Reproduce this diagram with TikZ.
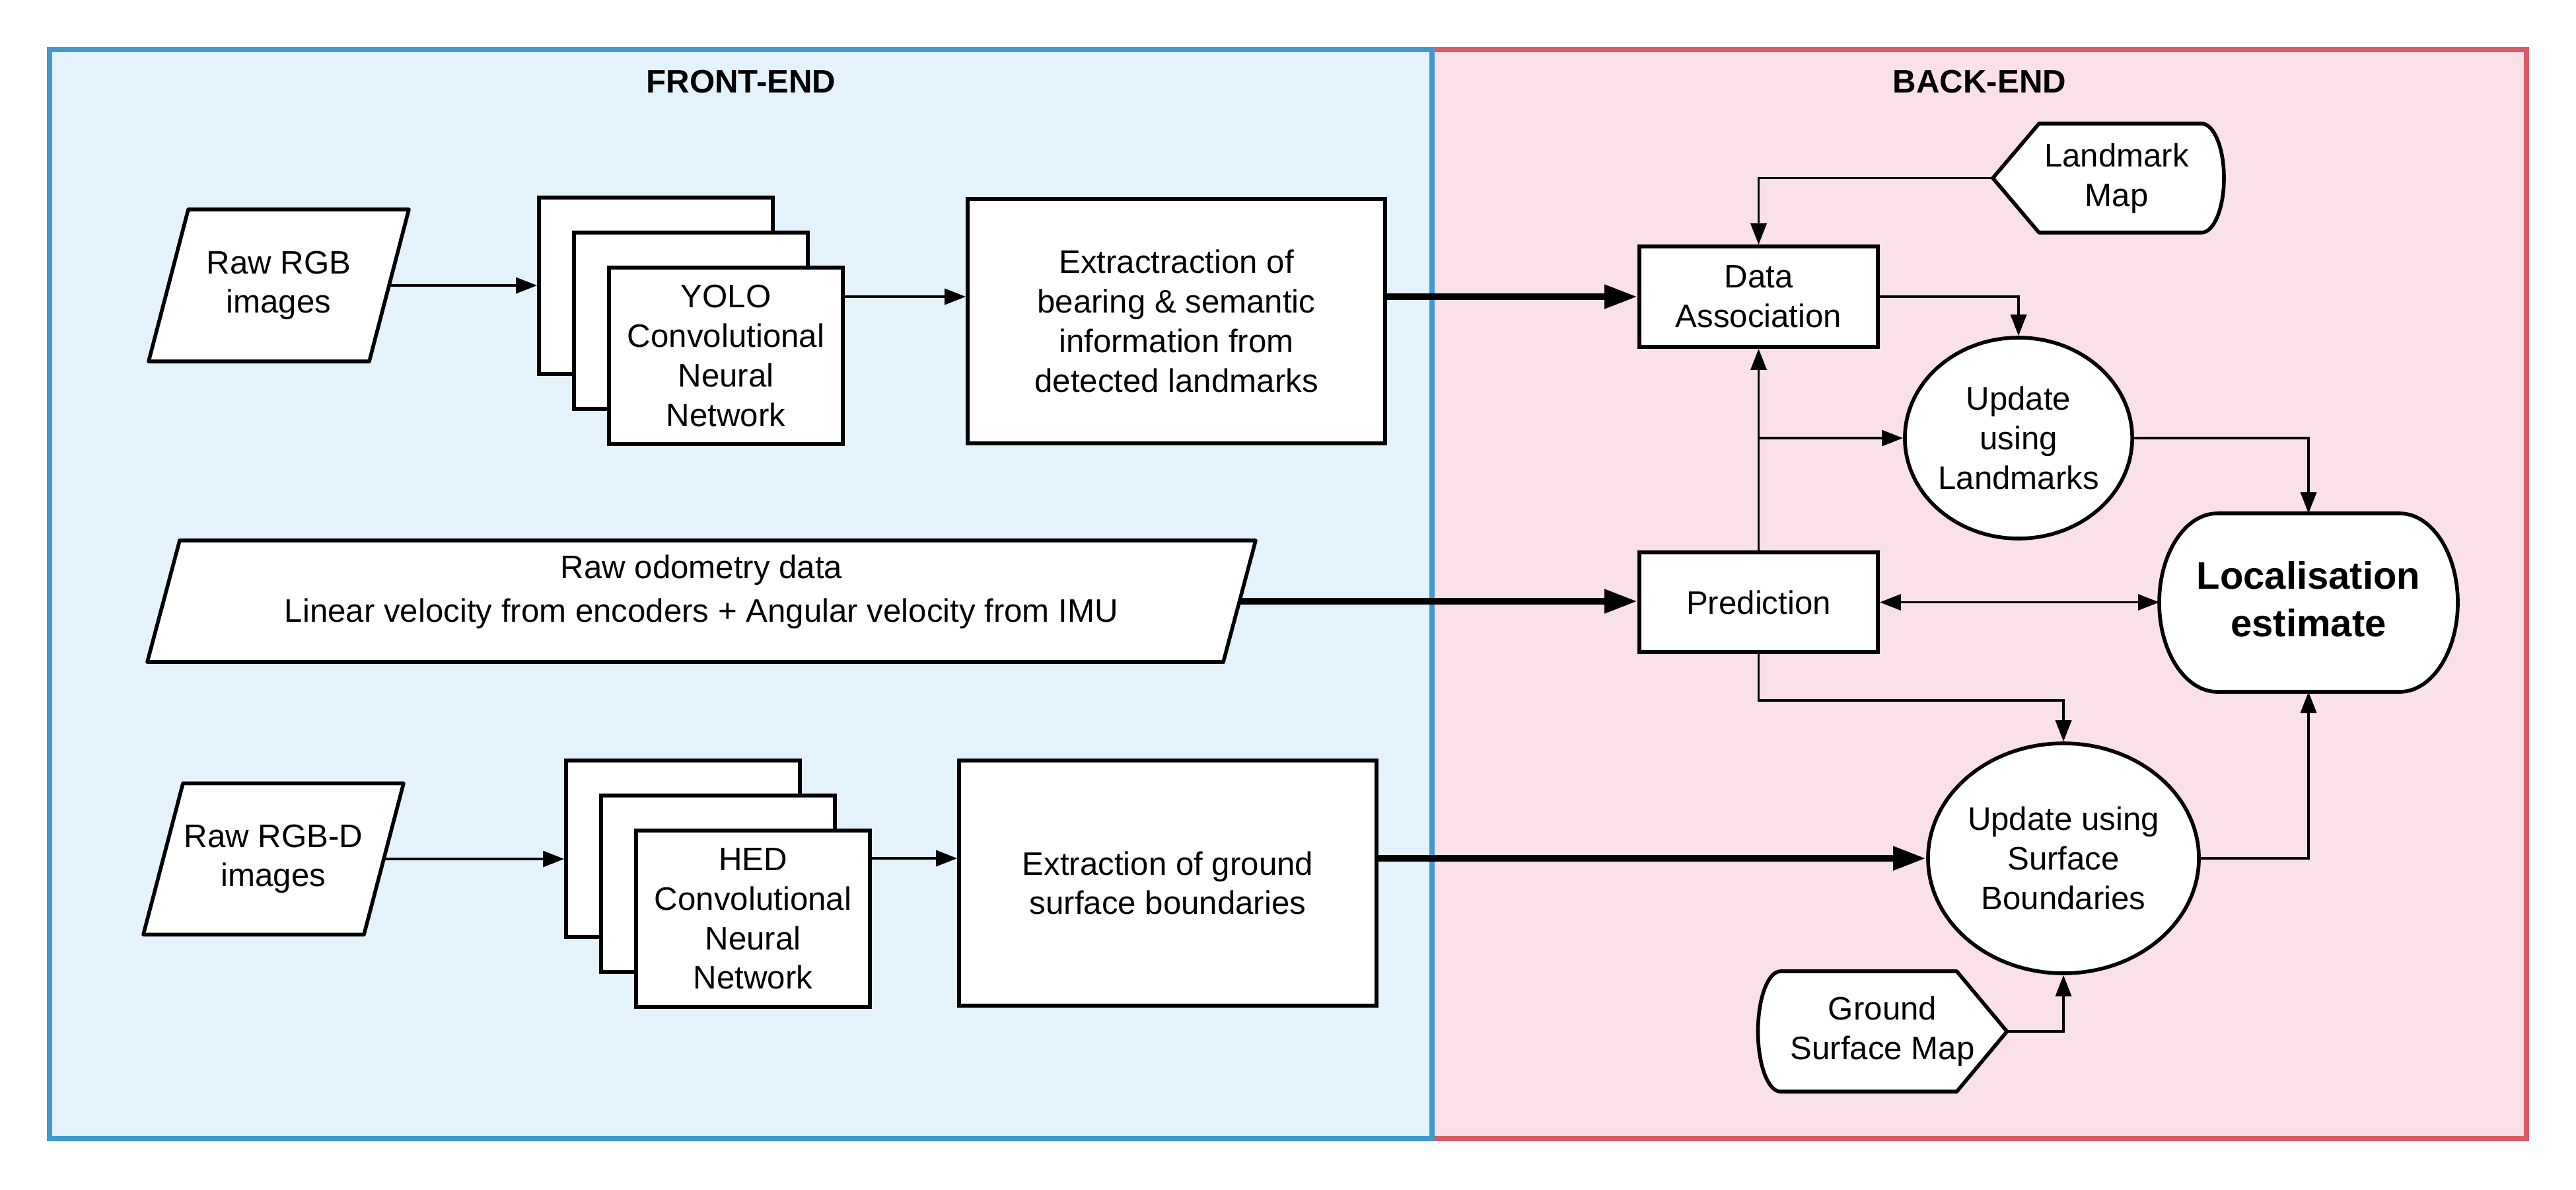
\documentclass[tikz,border=0pt]{standalone}
\usepackage{fontspec}
\setmainfont{Liberation Sans}
\usetikzlibrary{arrows.meta,shapes.geometric}

\definecolor{FrontColor}{RGB}{228,243,251}
\definecolor{FrontLine}{RGB}{66,153,204}
\definecolor{BackColor}{RGB}{250,224,232}
\definecolor{BackLine}{RGB}{217,91,102}

\pgfdeclarelayer{frames}
\pgfdeclarelayer{outlines}
\pgfsetlayers{frames,outlines,main}

\tikzset{
	txt/.style={font=\fontsize{14}{17}\selectfont, align=center},
	block/.style={txt, draw, fill=white, line width=1.6pt, inner sep=0pt},
	update/.style={txt, ellipse, draw, fill=white, line width=1.6pt, inner sep=0pt},
	holder/.style={txt, inner sep=0pt, outer sep=0pt},
	outline/.style={draw, fill=white, line width=1.6pt, line join=round},
	title/.style={font=\bfseries\fontsize{14}{17}\selectfont},
	link/.style={line width=1pt, -{Triangle[length=0.32cm,width=0.24cm]}},
	biglink/.style={line width=3pt, -{Triangle[length=0.5cm,width=0.34cm]}},
}

\begin{document}
\begin{tikzpicture}

	\useasboundingbox (0,0) rectangle (39,-18);

	% Frames

	\begin{pgfonlayer}{frames}
		\filldraw [fill=BackColor, draw=BackLine, line width=2.3pt] (21.68,-0.75) rectangle (38.25,-17.23);
		\filldraw [fill=FrontColor, draw=FrontLine, line width=2.3pt] (0.75,-0.75) rectangle (21.68,-17.23);
	\end{pgfonlayer}

	\node [title] (fronttitle) at (11.22,-1.24) {FRONT-END};
	\node [title] (backtitle) at (29.97,-1.24) {BACK-END};

	% Front-end: landmarks

	\node [holder, minimum width=3.94cm, minimum height=2.30cm] (rgb) at (4.22,-4.32) {Raw RGB\\images};
	\node [block, minimum width=3.54cm, minimum height=2.67cm] (yoloback) at (9.93,-4.325) {};
	\node [block, minimum width=3.54cm, minimum height=2.67cm] (yolomid) at (10.46,-4.855) {};
	\node [block, minimum width=3.54cm, minimum height=2.67cm] (yolo) at (10.99,-5.385) {YOLO\\Convolutional\\Neural\\Network};
	\node [block, minimum width=6.32cm, minimum height=3.70cm] (ext) at (17.81,-4.86) {Extractraction of\\bearing \& semantic\\information from\\detected landmarks};

	% Front-end: odometry

	\node [holder, minimum width=16.78cm, minimum height=1.84cm] (odo) at (10.62,-9.10) {Raw odometry data\\[2pt]Linear velocity from encoders + Angular velocity from IMU\\[-0.21cm]\mbox{}};

	% Front-end: ground surface

	\node [holder, minimum width=3.94cm, minimum height=2.29cm] (rgbd) at (4.14,-13.00) {Raw RGB-D\\images};
	\node [block, minimum width=3.54cm, minimum height=2.67cm] (hedback) at (10.34,-12.845) {};
	\node [block, minimum width=3.54cm, minimum height=2.67cm] (hedmid) at (10.87,-13.375) {};
	\node [block, minimum width=3.54cm, minimum height=2.67cm] (hed) at (11.40,-13.905) {HED\\Convolutional\\Neural\\Network};
	\node [block, minimum width=6.32cm, minimum height=3.71cm] (ext2) at (17.68,-13.365) {Extraction of ground\\surface boundaries};

	% Back-end

	\node [block, minimum width=3.61cm, minimum height=1.52cm] (da) at (26.625,-4.49) {Data\\Association};
	\node [block, minimum width=3.61cm, minimum height=1.51cm] (pred) at (26.625,-9.115) {Prediction};
	\node [update, minimum width=3.22cm, minimum height=3.04cm] (upl) at (30.56,-6.63) {Update\\using\\Landmarks};
	\node [update, minimum width=3.70cm, minimum height=3.48cm] (ups) at (31.24,-12.99) {Update using\\Surface\\Boundaries};
	\node [holder, minimum width=3.50cm, minimum height=1.65cm] (lmap) at (31.92,-2.695) {\hspace*{0.25cm}Landmark\\\hspace*{0.25cm}Map};
	\node [holder, minimum width=3.77cm, minimum height=1.82cm] (gmap) at (28.50,-15.61) {Ground\\Surface Map};
	\node [holder, minimum width=4.52cm, minimum height=2.70cm,
		font=\bfseries\fontsize{16.5}{20.5}\selectfont] (loc) at (34.95,-9.07) {Localisation\\estimate};

	% Outlines of the data, map and estimate shapes

	\begin{pgfonlayer}{outlines}
		\draw [outline] ([xshift=0.60cm]rgb.north west) -- (rgb.north east) -- ([xshift=-0.60cm]rgb.south east) -- (rgb.south west) -- cycle;
		\draw [outline] ([xshift=0.60cm]rgbd.north west) -- (rgbd.north east) -- ([xshift=-0.60cm]rgbd.south east) -- (rgbd.south west) -- cycle;
		\draw [outline] ([xshift=0.49cm]odo.north west) -- (odo.north east) -- ([xshift=-0.49cm]odo.south east) -- (odo.south west) -- cycle;
		\draw [outline] (lmap.west) -- ([xshift=0.70cm]lmap.north west) -- ([xshift=-0.34cm]lmap.north east)
			arc [start angle=90, end angle=-90, x radius=0.34cm, y radius=0.825cm]
			-- ([xshift=0.70cm]lmap.south west) -- cycle;
		\draw [outline] (gmap.east) -- ([xshift=-0.76cm]gmap.north east) -- ([xshift=0.34cm]gmap.north west)
			arc [start angle=90, end angle=270, x radius=0.34cm, y radius=0.91cm]
			-- ([xshift=-0.76cm]gmap.south east) -- cycle;
		\draw [outline] ([xshift=0.88cm,yshift=-0.05cm]loc.north west) -- ([xshift=-0.88cm,yshift=-0.05cm]loc.north east)
			arc [start angle=90, end angle=-90, x radius=0.88cm, y radius=1.35cm]
			-- ([xshift=0.88cm,yshift=-0.05cm]loc.south west)
			arc [start angle=270, end angle=90, x radius=0.88cm, y radius=1.35cm] -- cycle;
	\end{pgfonlayer}

	% Connectors

	\draw [link] ([xshift=-0.30cm]rgb.east) -- (rgb.east -| yoloback.west);
	\draw [link] (yolo.east |- da.west) -- (ext.west |- da.west);
	\draw [biglink] (ext.east |- da.west) -- (da.west);
	\draw [biglink] ([xshift=-0.245cm]odo.east) -- (odo.east -| pred.west);
	\draw [link] ([xshift=-0.30cm]rgbd.east) -- (rgbd.east -| hedback.west);
	\draw [link] (hed.east |- ups.west) -- (ext2.west |- ups.west);
	\draw [biglink] (ext2.east |- ups.west) -- (ups.west);

	\draw [link] (lmap.west) -| (da.north);
	\draw [link] (da.east) -| (upl.north);
	\draw [link] (pred.north) -- (da.south);
	\draw [link] (pred.north |- upl.west) -- (upl.west);
	\draw [link, {Triangle[length=0.32cm,width=0.24cm]}-{Triangle[length=0.32cm,width=0.24cm]}] (pred.east) -- (pred.east -| loc.west);
	\draw [link] (upl.east) -| ([yshift=-0.05cm]loc.north);
	\draw [link] (pred.south) -- ++(0,-0.70) -| (ups.north);
	\draw [link] (ups.east) -| ([yshift=-0.05cm]loc.south);
	\draw [link] (gmap.east) -| (ups.south);

\end{tikzpicture}
\end{document}
